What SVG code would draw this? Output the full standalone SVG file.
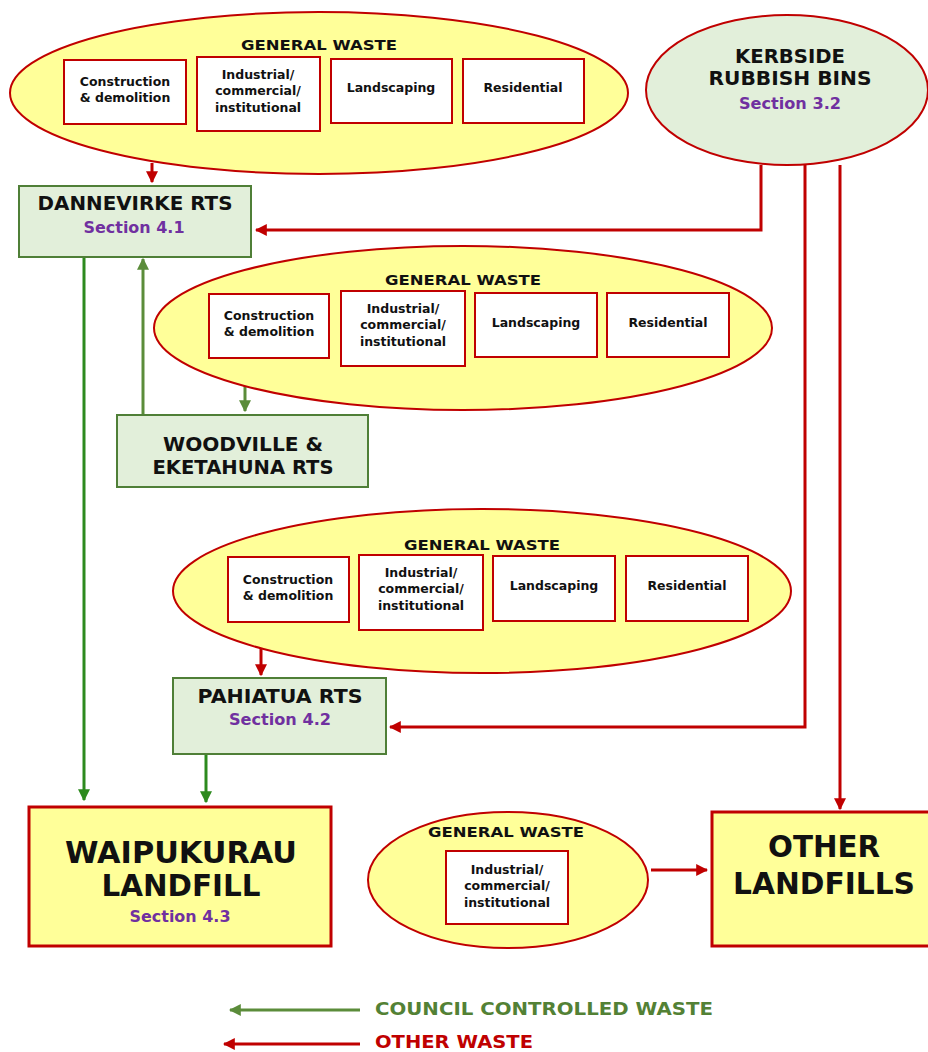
<svg xmlns="http://www.w3.org/2000/svg" width="928" height="1052" viewBox="0 0 928 1052">
<style>
text{font-family:"DejaVu Sans","Verdana",sans-serif;font-weight:bold;text-anchor:middle;fill:#111}
.ell{fill:#ffff99;stroke:#c00000;stroke-width:2}
.kb{fill:#e2efda;stroke:#c00000;stroke-width:2}
.box{fill:#fff;stroke:#c00000;stroke-width:2}
.rts{fill:#e2efda;stroke:#4f7f37;stroke-width:2}
.lf{fill:#ffff99;stroke:#c00000;stroke-width:3}
.gw{font-size:14.5px}
.sm{font-size:12.5px}
.mid{font-size:19px}
.sec{fill:#7030a0;font-size:15px}
.big{font-size:31px}
.red{stroke:#c00000;stroke-width:3;fill:none}
.grn{stroke:#2d8a1e;stroke-width:3;fill:none}
.lgrn{stroke:#5b8c3a;stroke-width:3;fill:none}
</style>
<defs>
<marker id="ar" viewBox="0 0 10 10" refX="9" refY="5" markerWidth="4" markerHeight="4" orient="auto"><path d="M0,0 L10,5 L0,10 z" fill="#c00000"/></marker>
<marker id="ag" viewBox="0 0 10 10" refX="9" refY="5" markerWidth="4" markerHeight="4" orient="auto"><path d="M0,0 L10,5 L0,10 z" fill="#2d8a1e"/></marker>
<marker id="alg" viewBox="0 0 10 10" refX="9" refY="5" markerWidth="4" markerHeight="4" orient="auto"><path d="M0,0 L10,5 L0,10 z" fill="#5b8c3a"/></marker>
</defs>

<g id="connectors">
<path class="red" d="M152,163 V182" marker-end="url(#ar)"/>
<path class="red" d="M761,165 V230 H256" marker-end="url(#ar)"/>
<path class="red" d="M805,165 V727 H390" marker-end="url(#ar)"/>
<path class="red" d="M840,165 V809" marker-end="url(#ar)"/>
<path class="lgrn" d="M245,386 V411" marker-end="url(#alg)"/>
<path class="lgrn" d="M143,415 V259" marker-end="url(#alg)"/>
<path class="grn" d="M84,257 V800" marker-end="url(#ag)"/>
<path class="red" d="M261,649 V675" marker-end="url(#ar)"/>
<path class="grn" d="M206,754 V802" marker-end="url(#ag)"/>
<path class="red" d="M651,870 H707" marker-end="url(#ar)"/>
</g>

<g id="gw1">
<ellipse class="ell" cx="319" cy="93" rx="309" ry="81"/>
<text class="gw" x="319" y="50" textLength="156" lengthAdjust="spacingAndGlyphs">GENERAL WASTE</text>
<rect class="box" x="64" y="60" width="122" height="64"/>
<text class="sm" x="125" y="86">Construction</text>
<text class="sm" x="125" y="102">&amp; demolition</text>
<rect class="box" x="197" y="57" width="123" height="74"/>
<text class="sm" x="258" y="79">Industrial/</text>
<text class="sm" x="258" y="95">commercial/</text>
<text class="sm" x="258" y="112">institutional</text>
<rect class="box" x="331" y="59" width="121" height="64"/>
<text class="sm" x="391" y="92">Landscaping</text>
<rect class="box" x="463" y="59" width="121" height="64"/>
<text class="sm" x="523" y="92">Residential</text>
</g>

<g id="kerbside">
<ellipse class="kb" cx="787" cy="90" rx="141" ry="75"/>
<text class="mid" x="790" y="63" textLength="110" lengthAdjust="spacingAndGlyphs">KERBSIDE</text>
<text class="mid" x="790" y="85" textLength="163" lengthAdjust="spacingAndGlyphs">RUBBISH BINS</text>
<text class="sec" x="790" y="109" textLength="102" lengthAdjust="spacingAndGlyphs">Section 3.2</text>
</g>

<g id="dannevirke">
<rect class="rts" x="19" y="186" width="232" height="71"/>
<text class="mid" x="135" y="210" textLength="195" lengthAdjust="spacingAndGlyphs">DANNEVIRKE RTS</text>
<text class="sec" x="134" y="233" textLength="101" lengthAdjust="spacingAndGlyphs">Section 4.1</text>
</g>

<g id="gw2">
<ellipse class="ell" cx="463" cy="328" rx="309" ry="82"/>
<text class="gw" x="463" y="285" textLength="156" lengthAdjust="spacingAndGlyphs">GENERAL WASTE</text>
<rect class="box" x="209" y="294" width="120" height="64"/>
<text class="sm" x="269" y="320">Construction</text>
<text class="sm" x="269" y="336">&amp; demolition</text>
<rect class="box" x="341" y="291" width="124" height="75"/>
<text class="sm" x="403" y="313">Industrial/</text>
<text class="sm" x="403" y="329">commercial/</text>
<text class="sm" x="403" y="346">institutional</text>
<rect class="box" x="475" y="293" width="122" height="64"/>
<text class="sm" x="536" y="327">Landscaping</text>
<rect class="box" x="607" y="293" width="122" height="64"/>
<text class="sm" x="668" y="327">Residential</text>
</g>

<g id="woodville">
<rect class="rts" x="117" y="415" width="251" height="72"/>
<text class="mid" x="243" y="451" textLength="160" lengthAdjust="spacingAndGlyphs">WOODVILLE &amp;</text>
<text class="mid" x="243" y="474" textLength="181" lengthAdjust="spacingAndGlyphs">EKETAHUNA RTS</text>
</g>

<g id="gw3">
<ellipse class="ell" cx="482" cy="591" rx="309" ry="82"/>
<text class="gw" x="482" y="550" textLength="156" lengthAdjust="spacingAndGlyphs">GENERAL WASTE</text>
<rect class="box" x="228" y="557" width="121" height="65"/>
<text class="sm" x="288" y="584">Construction</text>
<text class="sm" x="288" y="600">&amp; demolition</text>
<rect class="box" x="359" y="555" width="124" height="75"/>
<text class="sm" x="421" y="577">Industrial/</text>
<text class="sm" x="421" y="593">commercial/</text>
<text class="sm" x="421" y="610">institutional</text>
<rect class="box" x="493" y="556" width="122" height="65"/>
<text class="sm" x="554" y="590">Landscaping</text>
<rect class="box" x="626" y="556" width="122" height="65"/>
<text class="sm" x="687" y="590">Residential</text>
</g>

<g id="pahiatua">
<rect class="rts" x="173" y="678" width="213" height="76"/>
<text class="mid" x="280" y="703" textLength="165" lengthAdjust="spacingAndGlyphs">PAHIATUA RTS</text>
<text class="sec" x="280" y="725" textLength="102" lengthAdjust="spacingAndGlyphs">Section 4.2</text>
</g>

<g id="waipukurau">
<rect class="lf" x="29" y="807" width="302" height="139"/>
<text class="big" x="181" y="863" textLength="232" lengthAdjust="spacingAndGlyphs">WAIPUKURAU</text>
<text class="big" x="181" y="896" textLength="159" lengthAdjust="spacingAndGlyphs">LANDFILL</text>
<text class="sec" x="180" y="922" textLength="101" lengthAdjust="spacingAndGlyphs">Section 4.3</text>
</g>

<g id="gw4">
<ellipse class="ell" cx="508" cy="880" rx="140" ry="68"/>
<text class="gw" x="506" y="837" textLength="156" lengthAdjust="spacingAndGlyphs">GENERAL WASTE</text>
<rect class="box" x="446" y="851" width="122" height="73"/>
<text class="sm" x="507" y="874">Industrial/</text>
<text class="sm" x="507" y="890">commercial/</text>
<text class="sm" x="507" y="907">institutional</text>
</g>

<g id="otherlandfills">
<rect class="lf" x="712" y="812" width="220" height="134"/>
<text class="big" x="824" y="857" textLength="112" lengthAdjust="spacingAndGlyphs">OTHER</text>
<text class="big" x="824" y="894" textLength="182" lengthAdjust="spacingAndGlyphs">LANDFILLS</text>
</g>

<g id="legend">
<path class="lgrn" d="M360,1010 H230" marker-end="url(#alg)"/>
<text x="375" y="1015" textLength="338" lengthAdjust="spacingAndGlyphs" style="text-anchor:start;font-size:18px;fill:#538135">COUNCIL CONTROLLED WASTE</text>
<path class="red" d="M360,1044 H224" marker-end="url(#ar)"/>
<text x="375" y="1048" textLength="158" lengthAdjust="spacingAndGlyphs" style="text-anchor:start;font-size:18px;fill:#c00000">OTHER WASTE</text>
</g>
</svg>
